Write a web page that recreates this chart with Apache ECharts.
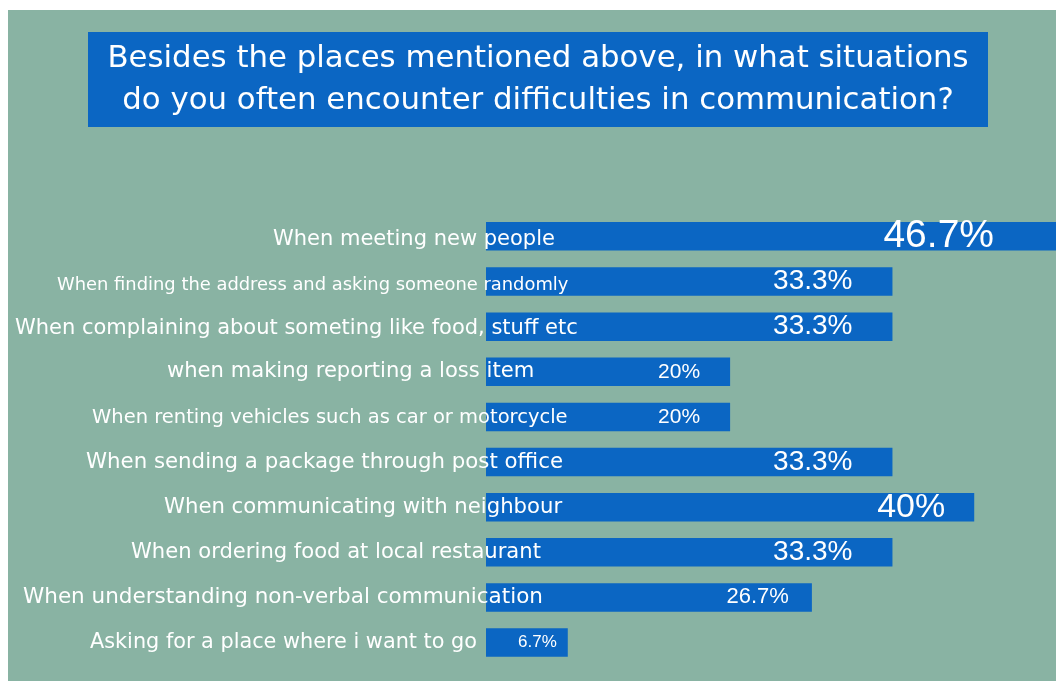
<!DOCTYPE html>
<html>
<head>
<meta charset="utf-8">
<script src="https://cdn.jsdelivr.net/npm/echarts@6/dist/echarts.min.js"></script>
<style>
  html, body { margin: 0; padding: 0; background: #ffffff; }
  #chart { position: absolute; left: 8px; top: 10px; width: 1048px; height: 671px; }
</style>
</head>
<body>
<div id="chart"></div>
<script>
// Survey answers, listed top to bottom
const categories = [
  'When meeting new people',
  'When finding the address and asking someone randomly',
  'When complaining about someting like food, stuff etc',
  'when making reporting a loss item',
  'When renting vehicles such as car or motorcycle',
  'When sending a package through post office',
  'When communicating with neighbour',
  'When ordering food at local restaurant',
  'When understanding non-verbal communication',
  'Asking for a place where i want to go'
];
// Share of respondents (%)
const shares = [46.7, 33.3, 33.3, 20, 20, 33.3, 40, 33.3, 26.7, 6.7];
const valueLabels = ['46.7%', '33.3%', '33.3%', '20%', '20%', '33.3%', '40%', '33.3%', '26.7%', '6.7%'];
const titleLines = [
  'Besides the places mentioned above, in what situations',
  'do you often encounter difficulties in communication?'
];

// Per-row styling of category labels: font size, left offset from the panel edge, downward nudge
const catFont = [21, 17.9, 21, 21.1, 19.5, 21.3, 21.2, 21.1, 21.5, 20.8];
const catPad = [265, 49, 7, 159, 84, 78, 156, 123, 15, 82];
const catNudge = [3, 4, 2, 0, 1, 0, 0, 0, 0, 0];
// Per-row styling of value labels: font size, distance from bar end
const valFont = [39, 28, 28, 21, 21, 28, 34, 28, 22, 17];
const valDist = [62, 40, 40, 30, 30, 40, 29, 40, 23, 11];

const BLUE = '#0b66c3';
const GREEN = '#89b3a3';
const LABEL_FONT = 'DejaVu Sans';

const rich = {};
catFont.forEach((fs, i) => {
  rich['c' + i] = {
    fontSize: fs,
    fontFamily: LABEL_FONT,
    color: '#ffffff',
    padding: [catNudge[i] * 2, 0, 0, catPad[i]]
  };
});

const chart = echarts.init(document.getElementById('chart'), null, { renderer: 'canvas' });

chart.setOption({
  backgroundColor: GREEN,
  animation: false,
  graphic: [
    {
      type: 'rect',
      shape: { x: 80, y: 22, width: 900, height: 95 },
      style: { fill: BLUE },
      z: 10
    },
    {
      type: 'text',
      x: 530,
      y: 70,
      z: 11,
      style: {
        text: titleLines.join('\n'),
        fill: '#ffffff',
        font: '400 30.8px "DejaVu Sans"',
        textAlign: 'center',
        textVerticalAlign: 'middle',
        lineHeight: 42
      }
    }
  ],
  grid: { left: 478, right: -2.5, top: 203.8, bottom: 15.9, containLabel: false },
  xAxis: {
    type: 'value',
    min: 0,
    max: 46.7,
    show: false
  },
  yAxis: {
    type: 'category',
    inverse: true,
    data: categories,
    z: 10,
    axisLine: { show: false },
    axisTick: { show: false },
    splitLine: { show: false },
    axisLabel: {
      align: 'left',
      margin: 478,
      formatter: (v, i) => '{c' + i + '|' + v + '}',
      rich: rich
    }
  },
  series: [{
    type: 'bar',
    barWidth: 28.5,
    itemStyle: { color: BLUE },
    data: shares.map((v, i) => ({
      value: v,
      label: {
        show: true,
        position: 'insideRight',
        distance: valDist[i],
        formatter: valueLabels[i],
        color: '#ffffff',
        fontFamily: 'Liberation Sans',
        fontSize: valFont[i]
      }
    }))
  }]
});
</script>
</body>
</html>
